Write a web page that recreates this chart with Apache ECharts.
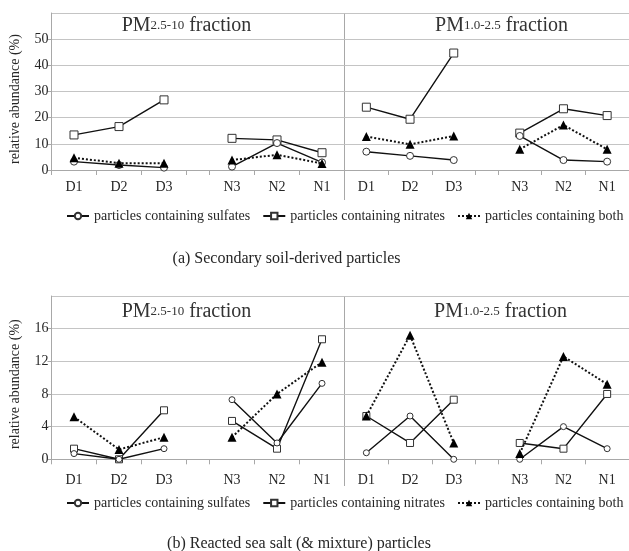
<!DOCTYPE html>
<html><head><meta charset="utf-8">
<script src="https://cdn.jsdelivr.net/npm/echarts@6/dist/echarts.min.js"></script>
<style>html,body{margin:0;padding:0;background:#fff}#c{width:629px;height:551px}</style>
</head><body><div id="c"></div>
<script>
// ---------- data ----------
const categories = ['D1', 'D2', 'D3', 'N3', 'N2', 'N1'];
const seriesNames = ['particles containing sulfates', 'particles containing nitrates', 'particles containing both'];
const yTicksA = [0, 10, 20, 30, 40, 50];
const yTicksB = [0, 4, 8, 12, 16];
const captionA = '(a) Secondary soil-derived particles';
const captionB = '(b) Reacted sea salt (& mixture) particles';
const yAxisTitle = 'relative abundance (%)';

// (a) Secondary soil-derived particles
const aCoarseSulfates = [3.2, 1.9, 0.9, 1.3, 10.3, 2.9];
const aCoarseNitrates = [13.4, 16.6, 26.8, 12.1, 11.5, 6.6];
const aCoarseBoth     = [4.7, 2.6, 2.6, 3.8, 5.8, 2.5];
const aFineSulfates   = [7.0, 5.4, 3.8, 13.0, 3.8, 3.2];
const aFineNitrates   = [24.0, 19.4, 44.7, 14.1, 23.4, 20.8];
const aFineBoth       = [12.8, 9.8, 13.0, 7.9, 17.2, 7.9];

// (b) Reacted sea salt (& mixture) particles
const bCoarseSulfates = [0.7, 0.0, 1.3, 7.3, 2.0, 9.3];
const bCoarseNitrates = [1.3, 0.0, 6.0, 4.7, 1.3, 14.7];
const bCoarseBoth     = [5.2, 1.2, 2.7, 2.7, 8.0, 11.9];
const bFineSulfates   = [0.8, 5.3, 0.0, 0.0, 4.0, 1.3];
const bFineNitrates   = [5.3, 2.0, 7.3, 2.0, 1.3, 8.0];
const bFineBoth       = [5.3, 15.2, 2.0, 0.7, 12.6, 9.2];

// ---------- layout ----------
const FONT = 'Liberation Serif';
const TXT = '#262626';
const GRIDC = '#c4c4c4';
const AXC = '#a8a8a8';
const GAP = 23 / 45;               // narrow gap between day and night groups (in slot units)
const XMAX = 6 + GAP;
const pos = i => i < 3 ? i + 0.5 : i + 0.5 + GAP;
const catPos = categories.map((c, i) => pos(i));
const tickPos = [0, 1, 2, 3, 3 + GAP, 4 + GAP, 5 + GAP, 6 + GAP];
const catName = v => {
  let best = 0;
  catPos.forEach((p, i) => { if (Math.abs(p - v) < Math.abs(catPos[best] - v)) best = i; });
  return categories[best];
};
const toXY = vals => {
  const d = vals.map((v, i) => [pos(i), v]);
  return d.slice(0, 3).concat([[3 + GAP / 2, '-']], d.slice(3));
};

const PANEL_W = 293;
const grids = [
  { left: 51.5, top: 13, width: PANEL_W, height: 157 },
  { left: 344.5, top: 13, width: PANEL_W, height: 157 },
  { left: 51.5, top: 296, width: PANEL_W, height: 163.3 },
  { left: 344.5, top: 296, width: PANEL_W, height: 163.3 }
];

function xAxis(g, margin) {
  return {
    type: 'value', gridIndex: g, min: 0, max: XMAX,
    splitLine: { show: false },
    axisLine: { show: true, onZero: false, lineStyle: { color: AXC, width: 1 } },
    axisTick: { show: true, customValues: tickPos, length: 5, lineStyle: { color: AXC } },
    axisLabel: { customValues: catPos, formatter: v => catName(v), margin: margin,
                 fontFamily: FONT, fontSize: 14, color: TXT }
  };
}
function yAxis(g, max, interval, isLeft, pad) {
  return {
    type: 'value', gridIndex: g, min: 0, max: max, interval: interval,
    splitLine: { show: true, lineStyle: { color: GRIDC, width: 1 } },
    axisLine: { show: isLeft, lineStyle: { color: AXC } },
    axisTick: { show: isLeft, length: 4, lineStyle: { color: AXC } },
    axisLabel: { show: isLeft, showMaxLabel: false, margin: 3, fontFamily: FONT, fontSize: 14, color: TXT },
    name: isLeft ? yAxisTitle : '', nameLocation: 'middle', nameGap: 29,
    nameTextStyle: { fontFamily: FONT, fontSize: 14, color: TXT, padding: [0, pad, 0, 0] }
  };
}

function mk(nameIdx, vals, g, big) {
  const base = { type: 'line', name: seriesNames[nameIdx], xAxisIndex: g, yAxisIndex: g,
                 data: toXY(vals), connectNulls: false, animation: false, silent: true };
  if (nameIdx === 0) return Object.assign(base, {
    symbol: 'circle', symbolSize: big ? 7 : 6,
    itemStyle: { color: '#fff', borderColor: '#333', borderWidth: 1 },
    lineStyle: { color: '#111', width: 1.4 }, z: 3 });
  if (nameIdx === 1) return Object.assign(base, {
    symbol: 'rect', symbolSize: big ? 8 : 7,
    itemStyle: { color: '#fff', borderColor: '#333', borderWidth: 1 },
    lineStyle: { color: '#111', width: 1.4 }, z: 2 });
  return Object.assign(base, {
    symbol: 'triangle', symbolSize: 9,
    itemStyle: { color: '#000' },
    lineStyle: { color: '#111', width: 2, type: 'dotted' }, z: 4 });
}

function panelTitle(lbl, sub, cx, top) {
  return {
    text: '{a|' + lbl + '}{b|' + sub + '}{a| fraction}', left: cx, top: top, textAlign: 'center', padding: 0,
    textStyle: { fontWeight: 'normal', rich: {
      a: { fontFamily: FONT, fontSize: 20, fontWeight: 'normal', color: '#333' },
      b: { fontFamily: FONT, fontSize: 13, fontWeight: 'normal', color: '#333' }
    } }
  };
}

const legendBase = {
  data: seriesNames, itemWidth: 22, itemHeight: 8, itemGap: 12, padding: 0,
  textStyle: { fontFamily: FONT, fontSize: 14, color: TXT }, selectedMode: false
};

const option = {
  backgroundColor: '#fff',
  animation: false,
  title: [
    panelTitle('PM', '2.5-10', 186.5, 16),
    panelTitle('PM', '1.0-2.5', 501.5, 16),
    panelTitle('PM', '2.5-10', 186.5, 302),
    panelTitle('PM', '1.0-2.5', 500.5, 302),
    { text: captionA, left: 286.5, top: 251, textAlign: 'center', padding: 0,
      textStyle: { fontFamily: FONT, fontSize: 16, fontWeight: 'normal', color: TXT } },
    { text: captionB, left: 299, top: 536, textAlign: 'center', padding: 0,
      textStyle: { fontFamily: FONT, fontSize: 16, fontWeight: 'normal', color: TXT } }
  ],
  legend: [
    Object.assign({ left: 66, top: 209 }, legendBase),
    Object.assign({ left: 66, top: 496 }, legendBase)
  ],
  grid: grids,
  xAxis: [xAxis(0, 10), xAxis(1, 10), xAxis(2, 14), xAxis(3, 14)],
  yAxis: [
    yAxis(0, 60, 10, true, 15), yAxis(1, 60, 10, false, 0),
    yAxis(2, 20, 4, true, 13), yAxis(3, 20, 4, false, 0)
  ],
  graphic: [
    { type: 'line', shape: { x1: 344.5, y1: 13, x2: 344.5, y2: 200 }, style: { stroke: AXC, lineWidth: 1 }, silent: true },
    { type: 'line', shape: { x1: 344.5, y1: 296, x2: 344.5, y2: 486 }, style: { stroke: AXC, lineWidth: 1 }, silent: true }
  ],
  series: [
    mk(0, aCoarseSulfates, 0, true), mk(1, aCoarseNitrates, 0, true), mk(2, aCoarseBoth, 0, true),
    mk(0, aFineSulfates, 1, true), mk(1, aFineNitrates, 1, true), mk(2, aFineBoth, 1, true),
    mk(0, bCoarseSulfates, 2, false), mk(1, bCoarseNitrates, 2, false), mk(2, bCoarseBoth, 2, false),
    mk(0, bFineSulfates, 3, false), mk(1, bFineNitrates, 3, false), mk(2, bFineBoth, 3, false)
  ]
};

const chart = echarts.init(document.getElementById('c'), null, { renderer: 'canvas' });
chart.setOption(option);
</script>
</body></html>
